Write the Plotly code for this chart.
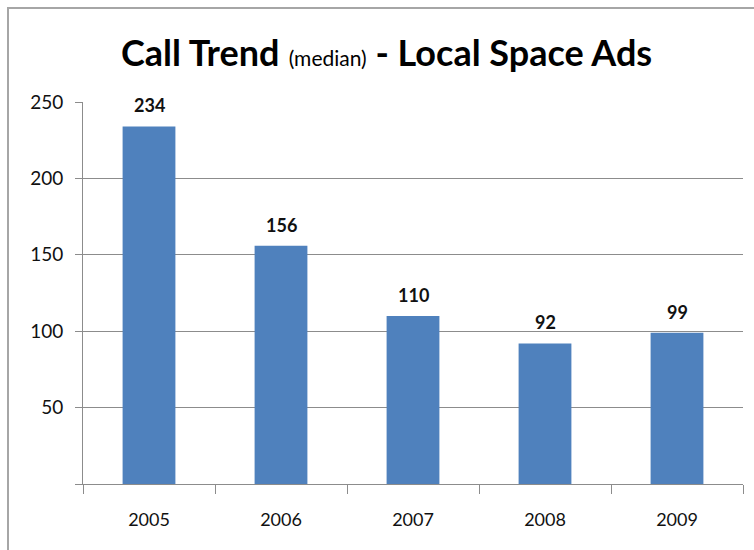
import plotly.graph_objects as go

years = ["2005", "2006", "2007", "2008", "2009"]
calls = [234, 156, 110, 92, 99]
y_ticks = [0, 50, 100, 150, 200, 250]
y_tick_labels = ["", "50", "100", "150", "200", "250"]

W, H = 754, 550
L, R, T, B = 83, 11, 102, 66
pw, ph = W - L - R, H - T - B


def px_x(x):
    return (x - L) / pw


def px_y(y):
    return (H - B - y) / ph


FONT = "Lato, Carlito, Calibri, sans-serif"
TEXT = "#111111"

fig = go.Figure(
    go.Bar(
        x=years,
        y=calls,
        width=0.4,
        marker=dict(color="#4f81bd", line=dict(width=0)),
        hoverinfo="x+y",
    )
)

# Value labels above each bar (category index positions)
for i, v in enumerate(calls):
    fig.add_annotation(
        x=i, y=v, xref="x", yref="y",
        text=f"<b>{v}</b>",
        showarrow=False,
        xanchor="center", yanchor="middle",
        yshift=21,
        font=dict(family=FONT, size=18, color=TEXT),
    )

fig.update_layout(
    width=W,
    height=H,
    margin=dict(l=L, r=R, t=T, b=B),
    paper_bgcolor="white",
    plot_bgcolor="white",
    showlegend=False,
    font=dict(family=FONT, color=TEXT),
)

fig.update_xaxes(
    type="category",
    range=[-0.5, len(years) - 0.5],
    showline=True,
    linecolor="#8c8c8c",
    linewidth=1,
    ticks="outside",
    tickson="boundaries",
    ticklen=9,
    tickcolor="#8c8c8c",
    ticklabelstandoff=19,
    tickangle=0,
    tickfont=dict(family=FONT, size=18, color=TEXT),
    showgrid=False,
)
fig.update_yaxes(
    range=[0, 250],
    tickvals=y_ticks,
    ticktext=y_tick_labels,
    showline=True,
    linecolor="#8c8c8c",
    linewidth=1,
    ticks="outside",
    ticklen=7,
    tickcolor="#8c8c8c",
    ticklabelstandoff=8,
    showgrid=True,
    gridcolor="#8c8c8c",
    gridwidth=1,
    zeroline=False,
    tickfont=dict(family=FONT, size=19, color=TEXT),
)

# Title with a smaller "(median)" part
fig.add_annotation(
    xref="paper", yref="paper",
    x=px_x(386), y=px_y(52),
    xanchor="center", yanchor="middle",
    showarrow=False,
    text=("<b>Call Trend</b> <span style='font-size:21px'>(median)</span>"
          "<b> - Local Space Ads</b>"),
    font=dict(family=FONT, size=36, color="#000000"),
)

# Chart frame
fig.add_shape(
    type="rect",
    xref="paper", yref="paper",
    x0=px_x(8), x1=px_x(770),
    y0=px_y(570), y1=px_y(8),
    line=dict(color="#a6a6a6", width=2),
    fillcolor="rgba(0,0,0,0)",
    layer="below",
)

fig.write_html("out.html")
